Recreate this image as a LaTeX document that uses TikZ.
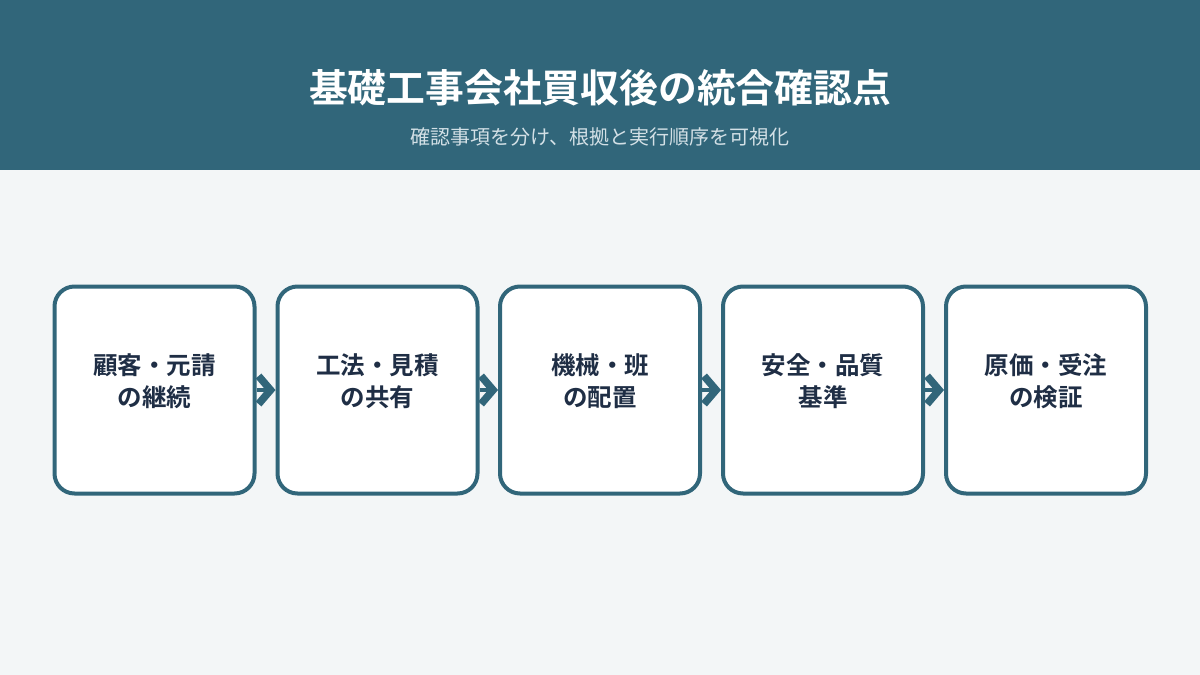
\documentclass[tikz,border=0pt]{standalone}
\usepackage{fontspec}
\newfontfamily\jpfont{Noto Sans CJK JP}
\newfontfamily\jpbold{Noto Sans CJK JP Bold}
\usetikzlibrary{arrows.meta}
\definecolor{headbg}{HTML}{31667A}
\definecolor{pagebg}{HTML}{F3F6F7}
\definecolor{subtxt}{HTML}{D3E0E6}
\definecolor{boxtxt}{HTML}{1F2E45}
\tikzset{
  stepbox/.style={draw=headbg, line width=4pt, fill=white, rounded corners=20pt,
    minimum width=200pt, minimum height=207pt, inner sep=0pt},
  steptext/.style={text=boxtxt, font=\jpbold\fontsize{24.5}{32}\selectfont, align=center},
  flow/.style={draw=headbg, line width=4pt, -{Straight Barb[length=12pt,width=28pt,line width=7.5pt]}}
}
\begin{document}
\begin{tikzpicture}[x=1pt,y=-1pt]
\useasboundingbox (0,0) rectangle (1200,675);
\fill[pagebg] (0,0) rectangle (1200,675);
\fill[headbg] (0,0) rectangle (1200,170);
\node[text=white, font=\jpbold\fontsize{38.8}{44}\selectfont] (title) at (600,88) {基礎工事会社買収後の統合確認点};
\node[text=subtxt, font=\jpfont\fontsize{20}{24}\selectfont] (sub) at (600,137) {確認事項を分け、根拠と実行順序を可視化};
\node[stepbox] (b1) at (154.5,390) {};
\node[stepbox] (b2) at (377.5,390) {};
\node[stepbox] (b3) at (600,390) {};
\node[stepbox] (b4) at (823,390) {};
\node[stepbox] (b5) at (1046,390) {};
\node[steptext] (t1) at (154.5,381) {顧客・元請\\の継続};
\node[steptext] (t2) at (377.5,381) {工法・見積\\の共有};
\node[steptext] (t3) at (600,381) {機械・班\\の配置};
\node[steptext] (t4) at (823,381) {安全・品質\\基準};
\node[steptext] (t5) at (1046,381) {原価・受注\\の検証};
\draw[flow] (b1.east) -- (b2.west);
\draw[flow] (b2.east) -- (b3.west);
\draw[flow] (b3.east) -- (b4.west);
\draw[flow] (b4.east) -- (b5.west);
\end{tikzpicture}
\end{document}
